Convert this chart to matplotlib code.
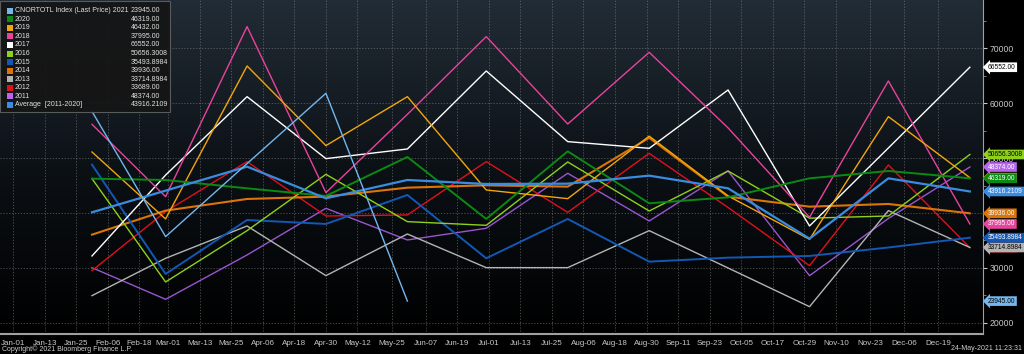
import matplotlib
matplotlib.use("Agg")
import matplotlib.pyplot as plt
import numpy as np
import pandas as pd
from matplotlib.colors import LinearSegmentedColormap
from matplotlib.patches import Rectangle

plt.rcParams['font.family'] = ['Liberation Sans', 'DejaVu Sans']

# month-end dates (all years plotted on the 2021 calendar)
months = pd.date_range("2021-01-31", "2021-12-31", freq="ME")

series_names = ["CNORTOTL Index (Last Price) 2021", "2020", "2019", "2018", "2017", "2016",
                "2015", "2014", "2013", "2012", "2011", "Average  [2011-2020]"]
last_values = ["23945.00", "46319.00", "46432.00", "37995.00", "66552.00", "50656.3008",
               "35493.8984", "39936.00", "33714.8984", "33689.00", "48374.00", "43916.2109"]

v2021 = [58500, 35690, 49000, 61800, 23945]
v2020 = [46250, 46010, 44490, 43100, 50200, 38910, 51230, 41760, 42850, 46310, 47650, 46319]
v2019 = [51110, 38910, 66780, 52270, 61190, 44190, 42610, 54000, 43100, 35200, 57550, 46432]
v2018 = [56150, 42975, 73950, 43700, 57970, 72130, 56210, 69270, 55500, 39210, 64050, 37995]
v2017 = [32170, 46900, 61190, 49900, 51660, 65870, 53000, 51780, 62410, 37630, 51840, 66552]
v2016 = [46250, 27430, 36780, 47040, 38420, 37750, 49290, 40360, 47650, 39050, 39450, 50656.3008]
v2015 = [48800, 28890, 38720, 38000, 43280, 31740, 38910, 31130, 31860, 32170, 33710, 35493.8984]
v2014 = [36050, 40430, 42550, 42980, 44610, 45040, 44800, 53700, 42980, 41150, 41640, 39936]
v2013 = [24940, 31740, 37630, 28580, 36170, 30040, 30040, 36780, 29980, 22930, 40430, 33714.8984]
v2012 = [29490, 40240, 49350, 39450, 39640, 49350, 40120, 50870, 41000, 30400, 48740, 33689]
v2011 = [30030, 24270, 32350, 40850, 35080, 37210, 47230, 38540, 47650, 28580, 39000, 48374]
vavg = [40120, 44070, 48440, 42670, 46010, 45280, 45340, 46800, 44490, 35320, 46310, 43916.2109]

all_values = [v2021, v2020, v2019, v2018, v2017, v2016, v2015, v2014, v2013, v2012, v2011, vavg]
colors = ["#74b6ee", "#0a8a12", "#f2a60c", "#e8449c", "#ffffff", "#8fd11a",
          "#1258b4", "#dc7408", "#b4b4b4", "#e0101c", "#9a55d0", "#3a8ce0"]
box_colors = ["#74b6ee", "#0a8a12", "#f2a60c", "#e8449c", "#ffffff", "#8fd11a",
              "#1258b4", "#dc7408", "#b4b4b4", "#e0101c", "#b865f2", "#3a8ce0"]
widths = [1.0, 1.4, 1.0, 1.0, 1.0, 1.0, 1.4, 1.5, 1.0, 1.0, 1.0, 1.6]

x_ticks = ["Jan-01", "Jan-13", "Jan-25", "Feb-06", "Feb-18", "Mar-01", "Mar-13", "Mar-25",
           "Apr-06", "Apr-18", "Apr-30", "May-12", "May-25", "Jun-07", "Jun-19", "Jul-01",
           "Jul-13", "Jul-25", "Aug-06", "Aug-18", "Aug-30", "Sep-11", "Sep-23", "Oct-05",
           "Oct-17", "Oct-29", "Nov-10", "Nov-23", "Dec-06", "Dec-19"]

W, H = 1024, 354
fig = plt.figure(figsize=(W / 100, H / 100), dpi=100, facecolor="black")
ax = fig.add_axes([0, 20 / H, 983 / W, 1 - 20 / H])
ax.set_facecolor("black")

# background gradient
cmap = LinearSegmentedColormap.from_list("bg", ["#000000", "#0c1116", "#222c36"])
grad = np.linspace(0, 1, 256).reshape(-1, 1)
ax.imshow(grad, extent=[0, 1, 0, 1], transform=ax.transAxes, aspect="auto",
          cmap=cmap, origin="lower", zorder=0)

# plot series, average and 2021 drawn last so they end up on top
order = [10, 9, 8, 7, 6, 5, 4, 3, 2, 1, 11, 0]
for i in order:
    vals = all_values[i]
    ax.plot(months[:len(vals)], vals, color=colors[i], lw=widths[i], zorder=3 + (i == 0))

ax.set_xlim(pd.Timestamp("2020-12-27"), pd.Timestamp("2022-01-05"))
ax.set_ylim(17950, 78800)

tick_dates = [pd.Timestamp("2021-" + t) for t in x_ticks]
ax.set_xticks(tick_dates)
ax.set_xticklabels(x_ticks)
ax.set_yticks(np.arange(20000, 80000, 10000))
ax.set_yticks(np.arange(20000, 80000, 5000), minor=True)
ax.yaxis.tick_right()
ax.tick_params(axis="x", colors="#c8c8c8", labelsize=5.8, length=0, pad=4)
ax.tick_params(axis="y", which="major", colors="#c8c8c8", labelsize=6.2, length=3, pad=2)
ax.tick_params(axis="y", which="minor", colors="#909090", length=2)
ax.grid(True, color="#8a8a8a", ls=(0, (1.5, 2)), lw=0.6, alpha=0.6)

for s in ["top", "left"]:
    ax.spines[s].set_visible(False)
ax.spines["bottom"].set_color("#a0a0a0")
ax.spines["bottom"].set_linewidth(1.5)
ax.spines["right"].set_color("#a0a0a0")

# last value boxes on the right
box_order = [2, 9, 0, 8, 6, 3, 7, 11, 1, 10, 5, 4]
text_dark = {0, 4, 5, 8}
for i in box_order:
    val = float(last_values[i])
    ax.annotate(last_values[i], xy=(1, val), xycoords=("axes fraction", "data"),
                xytext=(5, 0), textcoords="offset pixels", va="center", ha="left",
                fontsize=4.8, color="black" if i in text_dark else "white",
                annotation_clip=False, zorder=6,
                bbox=dict(boxstyle="larrow,pad=0.2", fc=box_colors[i], ec="none"))

# legend box in the top-left corner
def px(x, y):
    return x / W, 1 - y / H

lx, ly = px(0, 112)
fig.add_artist(Rectangle((lx, ly), 170 / W, 111 / H, transform=fig.transFigure,
                         fc="#151515", ec="#606060", lw=0.8, alpha=0.92, zorder=10))
for k, name in enumerate(series_names):
    yy = 10.7 + k * 8.57
    sx, sy = px(7, yy + 3)
    fig.add_artist(Rectangle((sx, sy), 6 / W, 6 / H, transform=fig.transFigure,
                             fc=box_colors[k], ec="none", zorder=11))
    tx, ty = px(15, yy)
    fig.text(tx, ty, name, color="#e0e0e0", fontsize=5.0, va="center", ha="left", zorder=12)
    vx, vy = px(131, yy)
    fig.text(vx, vy, last_values[k], color="#e0e0e0", fontsize=5.0, va="center", ha="left",
             zorder=12)

fig.text(2 / W, 1 - 349 / H, "Copyright\u00a9 2021 Bloomberg Finance L.P.", color="#d0d0d0",
         fontsize=5.0, va="center", ha="left")
fig.text(1 - 2 / W, 1 - 349 / H, "24-May-2021 11:23:31", color="#d0d0d0",
         fontsize=5.0, va="center", ha="right")

fig.savefig("out.png", dpi=100, facecolor="black")
